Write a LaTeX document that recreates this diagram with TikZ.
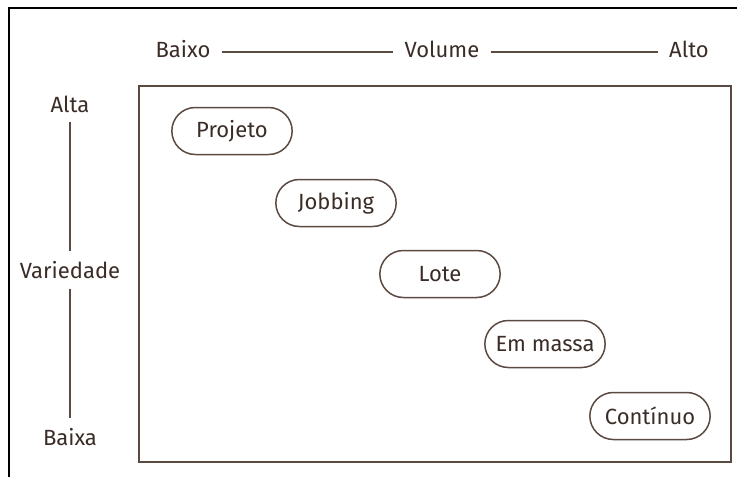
\documentclass[tikz,border=0pt]{standalone}
\usepackage{fontspec}
\setmainfont{Fira Sans}
\usepackage{xcolor}
\usetikzlibrary{positioning,shapes.misc}

\definecolor{ink}{HTML}{5A4A42}
\definecolor{txt}{HTML}{3A2C26}

\begin{document}
\begin{tikzpicture}[
        x=1pt, y=-1pt,
        lbl/.style ={font=\fontsize{22}{24}\selectfont, text=txt, inner sep=1pt},
        proc/.style={draw=ink, line width=1.5pt, rounded rectangle,
                     minimum width=127pt, minimum height=47pt,
                     font=\fontsize{22}{24}\selectfont, text=txt},
        rule/.style={draw=ink, line width=1.4pt}
    ]
        \useasboundingbox (0,0) rectangle (737,477);
        % clipped outer frame (top and left edges only)
        \draw[line width=1.2pt] (9,477) -- (9,8) -- (737,8);
        % matrix box
        \draw[rule] (139,86) rectangle (731,462);
        % volume axis on top
        \node[lbl] (baixo)  at (183,49) {Baixo};
        \node[lbl] (volume) at (442,49) {Volume};
        \node[lbl] (alto)   at (689,49) {Alto};
        \draw[rule] ([xshift=10pt,yshift=-3pt]baixo.east) -- ([xshift=-10pt,yshift=-3pt]volume.west);
        \draw[rule] ([xshift=10pt,yshift=-3pt]volume.east) -- ([xshift=-10pt,yshift=-3pt]alto.west);
        % variety axis on the left
        \node[lbl] (alta)  at (70,104) {Alta};
        \node[lbl] (var)   at (70,270) {Variedade};
        \node[lbl] (baixa) at (70,437) {Baixa};
        \draw[rule] ([yshift=-8pt]alta.south) -- ([yshift=9pt]var.north);
        \draw[rule] ([yshift=-9pt]var.south) -- ([yshift=9pt]baixa.north);
        % process types along the diagonal
        \foreach \nm/\cx/\cy/\txt in {%
            projeto/232/131/Projeto, jobbing/336/203/Jobbing, lote/440/274/Lote,%
            massa/545/344/Em massa, continuo/650/416/Contínuo%
        }{
            \node[proc] (\nm) at (\cx,\cy) {\txt};
        }
    \end{tikzpicture}
\end{document}
